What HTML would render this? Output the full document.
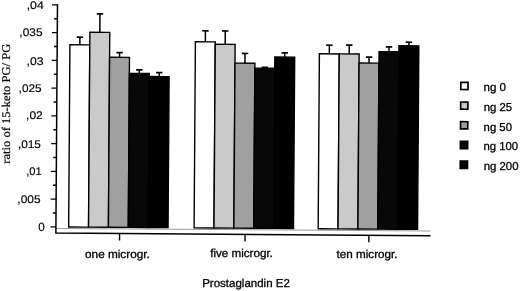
<!DOCTYPE html><html><head><meta charset="utf-8"><style>html,body{margin:0;padding:0;background:#fff;}svg{display:block;will-change:transform;}</style></head><body>
<svg width="520" height="291" viewBox="0 0 520 291">
<rect width="520" height="291" fill="#fff"/>
<g transform="rotate(0.4 260 145)">
<line x1="51.10" y1="6.30" x2="56.50" y2="6.30" stroke="#000" stroke-width="1.4"/>
<line x1="53.30" y1="20.18" x2="56.50" y2="20.18" stroke="#000" stroke-width="1.4"/>
<line x1="51.10" y1="34.05" x2="56.50" y2="34.05" stroke="#000" stroke-width="1.4"/>
<line x1="53.30" y1="47.93" x2="56.50" y2="47.93" stroke="#000" stroke-width="1.4"/>
<line x1="51.10" y1="61.80" x2="56.50" y2="61.80" stroke="#000" stroke-width="1.4"/>
<line x1="53.30" y1="75.68" x2="56.50" y2="75.68" stroke="#000" stroke-width="1.4"/>
<line x1="51.10" y1="89.55" x2="56.50" y2="89.55" stroke="#000" stroke-width="1.4"/>
<line x1="53.30" y1="103.43" x2="56.50" y2="103.43" stroke="#000" stroke-width="1.4"/>
<line x1="51.10" y1="117.30" x2="56.50" y2="117.30" stroke="#000" stroke-width="1.4"/>
<line x1="53.30" y1="131.18" x2="56.50" y2="131.18" stroke="#000" stroke-width="1.4"/>
<line x1="51.10" y1="145.05" x2="56.50" y2="145.05" stroke="#000" stroke-width="1.4"/>
<line x1="53.30" y1="158.93" x2="56.50" y2="158.93" stroke="#000" stroke-width="1.4"/>
<line x1="51.10" y1="172.80" x2="56.50" y2="172.80" stroke="#000" stroke-width="1.4"/>
<line x1="53.30" y1="186.68" x2="56.50" y2="186.68" stroke="#000" stroke-width="1.4"/>
<line x1="51.10" y1="200.55" x2="56.50" y2="200.55" stroke="#000" stroke-width="1.4"/>
<line x1="53.30" y1="214.43" x2="56.50" y2="214.43" stroke="#000" stroke-width="1.4"/>
<line x1="51.10" y1="228.30" x2="56.50" y2="228.30" stroke="#000" stroke-width="1.4"/>
<line x1="56.50" y1="229.90" x2="431.20" y2="229.90" stroke="#9a9a9a" stroke-width="1"/>
<line x1="79.17" y1="38.50" x2="79.17" y2="46.10" stroke="#000" stroke-width="1.5"/>
<line x1="75.97" y1="38.50" x2="82.37" y2="38.50" stroke="#000" stroke-width="1.7"/>
<rect x="69.23" y="46.10" width="19.88" height="182.20" fill="#ffffff" stroke="#000" stroke-width="1.4"/>
<line x1="99.05" y1="14.95" x2="99.05" y2="33.40" stroke="#000" stroke-width="1.5"/>
<line x1="95.85" y1="14.95" x2="102.25" y2="14.95" stroke="#000" stroke-width="1.7"/>
<rect x="89.11" y="33.40" width="19.88" height="194.90" fill="#cacaca" stroke="#000" stroke-width="1.4"/>
<line x1="118.93" y1="53.60" x2="118.93" y2="58.30" stroke="#000" stroke-width="1.5"/>
<line x1="115.73" y1="53.60" x2="122.13" y2="53.60" stroke="#000" stroke-width="1.7"/>
<rect x="108.99" y="58.30" width="19.88" height="170.00" fill="#a0a0a0" stroke="#000" stroke-width="1.4"/>
<line x1="138.81" y1="70.70" x2="138.81" y2="74.30" stroke="#000" stroke-width="1.5"/>
<line x1="135.61" y1="70.70" x2="142.01" y2="70.70" stroke="#000" stroke-width="1.7"/>
<rect x="128.87" y="74.30" width="19.88" height="154.00" fill="#080808" stroke="#000" stroke-width="1.4"/>
<line x1="158.69" y1="73.40" x2="158.69" y2="77.30" stroke="#000" stroke-width="1.5"/>
<line x1="155.49" y1="73.40" x2="161.89" y2="73.40" stroke="#000" stroke-width="1.7"/>
<rect x="148.75" y="77.30" width="19.88" height="151.00" fill="#000000" stroke="#000" stroke-width="1.4"/>
<line x1="204.62" y1="31.15" x2="204.62" y2="42.20" stroke="#000" stroke-width="1.5"/>
<line x1="201.42" y1="31.15" x2="207.82" y2="31.15" stroke="#000" stroke-width="1.7"/>
<rect x="194.68" y="42.20" width="19.88" height="186.10" fill="#ffffff" stroke="#000" stroke-width="1.4"/>
<line x1="224.50" y1="31.20" x2="224.50" y2="44.60" stroke="#000" stroke-width="1.5"/>
<line x1="221.30" y1="31.20" x2="227.70" y2="31.20" stroke="#000" stroke-width="1.7"/>
<rect x="214.56" y="44.60" width="19.88" height="183.70" fill="#cacaca" stroke="#000" stroke-width="1.4"/>
<line x1="244.38" y1="53.60" x2="244.38" y2="63.30" stroke="#000" stroke-width="1.5"/>
<line x1="241.18" y1="53.60" x2="247.58" y2="53.60" stroke="#000" stroke-width="1.7"/>
<rect x="234.44" y="63.30" width="19.88" height="165.00" fill="#a0a0a0" stroke="#000" stroke-width="1.4"/>
<line x1="264.26" y1="67.30" x2="264.26" y2="68.20" stroke="#000" stroke-width="1.5"/>
<line x1="261.06" y1="67.30" x2="267.46" y2="67.30" stroke="#000" stroke-width="1.7"/>
<rect x="254.32" y="68.20" width="19.88" height="160.10" fill="#080808" stroke="#000" stroke-width="1.4"/>
<line x1="284.14" y1="52.70" x2="284.14" y2="56.90" stroke="#000" stroke-width="1.5"/>
<line x1="280.94" y1="52.70" x2="287.34" y2="52.70" stroke="#000" stroke-width="1.7"/>
<rect x="274.20" y="56.90" width="19.88" height="171.40" fill="#000000" stroke="#000" stroke-width="1.4"/>
<line x1="328.69" y1="44.75" x2="328.69" y2="53.40" stroke="#000" stroke-width="1.5"/>
<line x1="325.49" y1="44.75" x2="331.89" y2="44.75" stroke="#000" stroke-width="1.7"/>
<rect x="318.75" y="53.40" width="19.88" height="174.90" fill="#ffffff" stroke="#000" stroke-width="1.4"/>
<line x1="348.57" y1="44.50" x2="348.57" y2="53.30" stroke="#000" stroke-width="1.5"/>
<line x1="345.37" y1="44.50" x2="351.77" y2="44.50" stroke="#000" stroke-width="1.7"/>
<rect x="338.63" y="53.30" width="19.88" height="175.00" fill="#cacaca" stroke="#000" stroke-width="1.4"/>
<line x1="368.45" y1="56.30" x2="368.45" y2="62.30" stroke="#000" stroke-width="1.5"/>
<line x1="365.25" y1="56.30" x2="371.65" y2="56.30" stroke="#000" stroke-width="1.7"/>
<rect x="358.51" y="62.30" width="19.88" height="166.00" fill="#a0a0a0" stroke="#000" stroke-width="1.4"/>
<line x1="388.33" y1="46.00" x2="388.33" y2="50.80" stroke="#000" stroke-width="1.5"/>
<line x1="385.13" y1="46.00" x2="391.53" y2="46.00" stroke="#000" stroke-width="1.7"/>
<rect x="378.39" y="50.80" width="19.88" height="177.50" fill="#080808" stroke="#000" stroke-width="1.4"/>
<line x1="408.21" y1="41.20" x2="408.21" y2="44.80" stroke="#000" stroke-width="1.5"/>
<line x1="405.01" y1="41.20" x2="411.41" y2="41.20" stroke="#000" stroke-width="1.7"/>
<rect x="398.27" y="44.80" width="19.88" height="183.50" fill="#000000" stroke="#000" stroke-width="1.4"/>
<path d="M56.50 5.60 V234.45 H431.20" fill="none" stroke="#000" stroke-width="1.5"/>
<line x1="120.20" y1="234.45" x2="120.20" y2="241.5" stroke="#000" stroke-width="1.4"/>
<line x1="245.70" y1="234.45" x2="245.70" y2="241.5" stroke="#000" stroke-width="1.4"/>
<line x1="369.50" y1="234.45" x2="369.50" y2="241.5" stroke="#000" stroke-width="1.4"/>
<rect x="460.4" y="80.90" width="7.2" height="7.2" fill="#ffffff" stroke="#000" stroke-width="1.7"/>
<rect x="460.4" y="100.60" width="7.2" height="7.2" fill="#cacaca" stroke="#000" stroke-width="1.7"/>
<rect x="460.4" y="120.30" width="7.2" height="7.2" fill="#a0a0a0" stroke="#000" stroke-width="1.7"/>
<rect x="460.4" y="140.00" width="7.2" height="7.2" fill="#080808" stroke="#000" stroke-width="1.7"/>
<rect x="460.4" y="159.70" width="7.2" height="7.2" fill="#000000" stroke="#000" stroke-width="1.7"/>
</g>
<text id="yl0" x="26.67" y="8.70" style='font-family:"Liberation Sans", sans-serif;font-size:11.0px;text-rendering:geometricPrecision' textLength="17.06" lengthAdjust="spacingAndGlyphs" fill="#000" stroke="#000" stroke-width="0.15">,04</text>
<text id="yl1" x="19.39" y="36.00" style='font-family:"Liberation Sans", sans-serif;font-size:11.0px;text-rendering:geometricPrecision' textLength="23.16" lengthAdjust="spacingAndGlyphs" fill="#000" stroke="#000" stroke-width="0.15">,035</text>
<text id="yl2" x="26.57" y="64.90" style='font-family:"Liberation Sans", sans-serif;font-size:11.0px;text-rendering:geometricPrecision' textLength="16.98" lengthAdjust="spacingAndGlyphs" fill="#000" stroke="#000" stroke-width="0.15">,03</text>
<text id="yl3" x="18.63" y="92.10" style='font-family:"Liberation Sans", sans-serif;font-size:11.0px;text-rendering:geometricPrecision' textLength="23.03" lengthAdjust="spacingAndGlyphs" fill="#000" stroke="#000" stroke-width="0.15">,025</text>
<text id="yl4" x="26.12" y="119.40" style='font-family:"Liberation Sans", sans-serif;font-size:11.0px;text-rendering:geometricPrecision' textLength="16.66" lengthAdjust="spacingAndGlyphs" fill="#000" stroke="#000" stroke-width="0.15">,02</text>
<text id="yl5" x="17.92" y="147.70" style='font-family:"Liberation Sans", sans-serif;font-size:11.0px;text-rendering:geometricPrecision' textLength="23.06" lengthAdjust="spacingAndGlyphs" fill="#000" stroke="#000" stroke-width="0.15">,015</text>
<text id="yl6" x="26.15" y="174.60" style='font-family:"Liberation Sans", sans-serif;font-size:11.0px;text-rendering:geometricPrecision' textLength="15.54" lengthAdjust="spacingAndGlyphs" fill="#000" stroke="#000" stroke-width="0.15">,01</text>
<text id="yl7" x="17.39" y="203.15" style='font-family:"Liberation Sans", sans-serif;font-size:11.0px;text-rendering:geometricPrecision' textLength="23.16" lengthAdjust="spacingAndGlyphs" fill="#000" stroke="#000" stroke-width="0.15">,005</text>
<text id="yl8" x="38.25" y="231.20" style='font-family:"Liberation Sans", sans-serif;font-size:12.0px;text-rendering:geometricPrecision' textLength="6.55" lengthAdjust="spacingAndGlyphs" fill="#000" stroke="#000" stroke-width="0.15">0</text>
<text id="xl0" x="85.06" y="257.50" style='font-family:"Liberation Sans", sans-serif;font-size:11.5px;text-rendering:geometricPrecision' textLength="64.75" lengthAdjust="spacingAndGlyphs" fill="#000" stroke="#000" stroke-width="0.3">one microgr.</text>
<text id="xl1" x="210.28" y="257.20" style='font-family:"Liberation Sans", sans-serif;font-size:11.5px;text-rendering:geometricPrecision' textLength="62.59" lengthAdjust="spacingAndGlyphs" fill="#000" stroke="#000" stroke-width="0.3">five microgr.</text>
<text id="xl2" x="336.55" y="258.30" style='font-family:"Liberation Sans", sans-serif;font-size:11.5px;text-rendering:geometricPrecision' textLength="60.93" lengthAdjust="spacingAndGlyphs" fill="#000" stroke="#000" stroke-width="0.3">ten microgr.</text>
<text id="xt" x="202.15" y="287.10" style='font-family:"Liberation Sans", sans-serif;font-size:11.5px;text-rendering:geometricPrecision' textLength="87.70" lengthAdjust="spacingAndGlyphs" fill="#000" stroke="#000" stroke-width="0.3">Prostaglandin E2</text>
<text id="lg0" x="483.56" y="91.00" style='font-family:"Liberation Sans", sans-serif;font-size:11.5px;text-rendering:geometricPrecision' textLength="22.48" lengthAdjust="spacingAndGlyphs" fill="#000" stroke="#000" stroke-width="0.3">ng 0</text>
<text id="lg1" x="483.69" y="110.80" style='font-family:"Liberation Sans", sans-serif;font-size:11.5px;text-rendering:geometricPrecision' textLength="28.31" lengthAdjust="spacingAndGlyphs" fill="#000" stroke="#000" stroke-width="0.3">ng 25</text>
<text id="lg2" x="483.60" y="130.60" style='font-family:"Liberation Sans", sans-serif;font-size:11.5px;text-rendering:geometricPrecision' textLength="28.33" lengthAdjust="spacingAndGlyphs" fill="#000" stroke="#000" stroke-width="0.3">ng 50</text>
<text id="lg3" x="483.51" y="150.40" style='font-family:"Liberation Sans", sans-serif;font-size:11.5px;text-rendering:geometricPrecision' textLength="34.68" lengthAdjust="spacingAndGlyphs" fill="#000" stroke="#000" stroke-width="0.3">ng 100</text>
<text id="lg4" x="483.68" y="170.20" style='font-family:"Liberation Sans", sans-serif;font-size:11.5px;text-rendering:geometricPrecision' textLength="34.89" lengthAdjust="spacingAndGlyphs" fill="#000" stroke="#000" stroke-width="0.3">ng 200</text>
<text id="yt" transform="translate(10.2 163.637) rotate(-90)" style='font-family:"Liberation Serif", serif;font-size:11.8px;text-rendering:geometricPrecision' textLength="119.87" lengthAdjust="spacingAndGlyphs" fill="#000" stroke="#000" stroke-width="0.2">ratio of 15-keto PG/ PG</text>
</svg></body></html>
